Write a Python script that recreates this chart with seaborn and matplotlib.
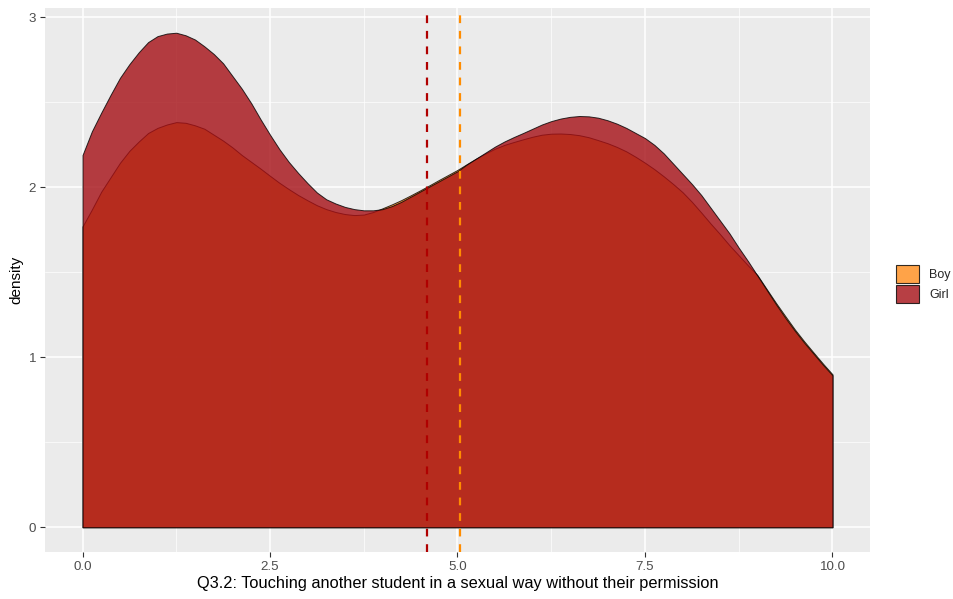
import matplotlib
matplotlib.use("Agg")
import matplotlib.pyplot as plt
from matplotlib.patches import Patch
from matplotlib.ticker import MultipleLocator
import seaborn as sns
import pandas as pd

# density curves, x = 0 .. 10 step 0.125
x_vals = [i * 0.125 for i in range(81)]
boy_density = [1.77, 1.87, 1.975, 2.06, 2.145, 2.215, 2.27, 2.32, 2.35, 2.37,
               2.384, 2.38, 2.365, 2.345, 2.31, 2.275, 2.235, 2.19, 2.15, 2.11,
               2.068, 2.027, 1.99, 1.955, 1.924, 1.895, 1.872, 1.855, 1.843, 1.837,
               1.84, 1.855, 1.877, 1.90, 1.925, 1.953, 1.982, 2.012, 2.043, 2.073,
               2.103, 2.137, 2.17, 2.20, 2.228, 2.25, 2.267, 2.283, 2.298, 2.31,
               2.316, 2.317, 2.314, 2.307, 2.295, 2.278, 2.26, 2.238, 2.212, 2.18,
               2.145, 2.107, 2.065, 2.02, 1.972, 1.915, 1.852, 1.787, 1.725, 1.66,
               1.60, 1.54, 1.483, 1.40, 1.318, 1.24, 1.163, 1.093, 1.027, 0.962, 0.90]
girl_density = [2.19, 2.33, 2.44, 2.545, 2.645, 2.725, 2.795, 2.855, 2.89, 2.905,
                2.91, 2.895, 2.87, 2.83, 2.785, 2.73, 2.655, 2.58, 2.495, 2.40,
                2.31, 2.225, 2.15, 2.085, 2.025, 1.97, 1.93, 1.905, 1.885, 1.872,
                1.865, 1.865, 1.872, 1.89, 1.915, 1.945, 1.975, 2.005, 2.035, 2.065,
                2.095, 2.135, 2.17, 2.205, 2.24, 2.27, 2.296, 2.32, 2.345, 2.37,
                2.39, 2.405, 2.415, 2.42, 2.418, 2.41, 2.395, 2.375, 2.35, 2.32,
                2.29, 2.25, 2.20, 2.14, 2.08, 2.02, 1.955, 1.88, 1.805, 1.73,
                1.645, 1.565, 1.48, 1.395, 1.31, 1.23, 1.155, 1.085, 1.02, 0.955, 0.894]
groups = ["Boy", "Girl"]
group_means = [5.04, 4.59]
fill_colors = ["#FF8C1A", "#A50F15"]
line_colors = ["#FF8C00", "#B00000"]

df = pd.DataFrame({
    "x": x_vals * 2,
    "density": boy_density + girl_density,
    "gender": ["Boy"] * len(x_vals) + ["Girl"] * len(x_vals),
})

sns.set_style("darkgrid", {
    "axes.facecolor": "#EBEBEB",
    "grid.color": "white",
    "axes.edgecolor": "#EBEBEB",
})
plt.rcParams["font.family"] = ["Liberation Sans", "DejaVu Sans"]

fig = plt.figure(figsize=(9.54, 5.99), dpi=100)
ax = fig.add_axes([45 / 954, 1 - 552 / 599, 825 / 954, 544 / 599])

for g, col in zip(groups, fill_colors):
    sub = df[df["gender"] == g]
    ax.fill_between(sub["x"], 0, sub["density"], facecolor=col, alpha=0.8,
                    edgecolor="black", linewidth=0.7, zorder=2)

for m, col in zip(group_means, line_colors):
    ax.axvline(m, color=col, linestyle=(0, (3.5, 3.5)), linewidth=1.6, zorder=3)

ax.set_xlim(-0.5, 10.5)
ax.set_ylim(-0.1455, 3.0555)
ax.xaxis.set_minor_locator(MultipleLocator(1.25))
ax.yaxis.set_minor_locator(MultipleLocator(0.5))
ax.set_xticks([0, 2.5, 5, 7.5, 10])
ax.set_xticklabels(["0.0", "2.5", "5.0", "7.5", "10.0"])
ax.set_yticks([0, 1, 2, 3])
ax.grid(which="major", color="white", linewidth=1.1)
ax.grid(which="minor", color="white", linewidth=0.5)
ax.tick_params(which="major", length=3.5, width=0.8, color="#333333",
               labelcolor="#4D4D4D", labelsize=9.6, pad=3, bottom=True, left=True)
ax.tick_params(which="minor", length=0)
ax.set_axisbelow(True)
for s in ax.spines.values():
    s.set_visible(False)

ax.set_xlabel("Q3.2: Touching another student in a sexual way without their permission",
              fontsize=11.8, color="black", labelpad=2)
ax.set_ylabel("density", fontsize=11, color="black", labelpad=4)

handles = [Patch(facecolor=c, alpha=0.8, edgecolor="black", linewidth=0.8)
           for c in fill_colors]
fig.legend(handles, groups, loc="center left", bbox_to_anchor=(891 / 954, 1 - 284 / 599),
           frameon=False, fontsize=9, handlelength=1.85, handleheight=1.9,
           handletextpad=0.8, labelspacing=0.12, borderaxespad=0)

fig.savefig("out.png", dpi=100)
